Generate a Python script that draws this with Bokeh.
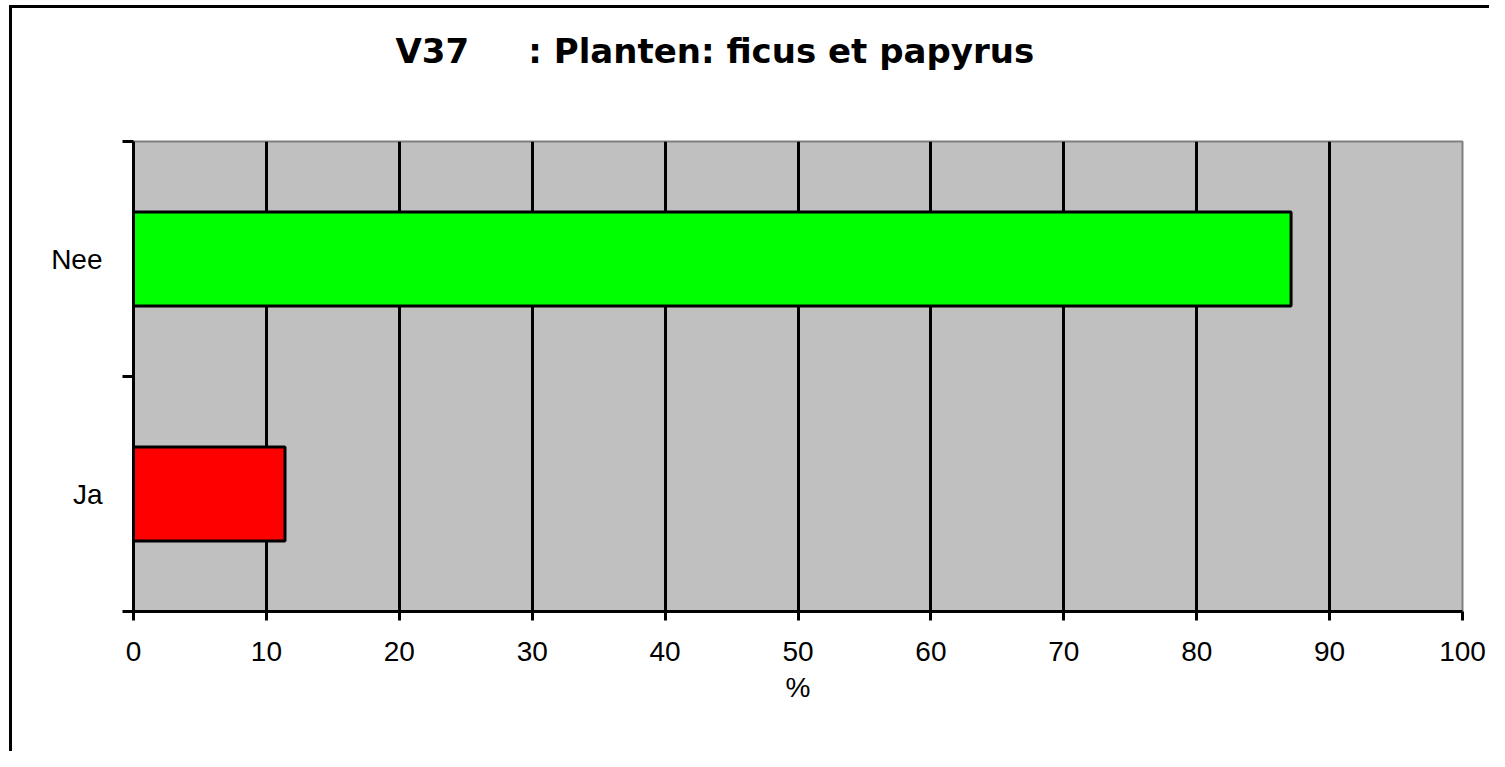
from bokeh.plotting import figure
from bokeh.models import Range1d, FixedTicker, Title
from bokeh.embed import file_html
from bokeh.resources import INLINE

# ---- data ----
categories = ["Ja", "Nee"]
values = [11.4, 87.1]
bar_colors = ["#FF0000", "#00FF00"]
x_ticks = [0, 10, 20, 30, 40, 50, 60, 70, 80, 90, 100]
title_code = "V37"
title_rest = ": Planten: ficus et papyrus"
x_label = "%"

ypos = [i + 0.5 for i in range(len(categories))]
boundaries = [float(i) for i in range(len(categories) + 1)]

p = figure(width=1489, height=751, output_backend="svg", toolbar_location=None,
           x_range=Range1d(x_ticks[0], x_ticks[-1]), y_range=Range1d(0, len(categories)),
           min_border_left=133, min_border_right=27, min_border_top=141, min_border_bottom=140,
           background_fill_color="#C0C0C0", border_fill_color=None,
           outline_line_color="#808080", outline_line_width=2)
p.styles = {"background": "linear-gradient(#000,#000) 9px 5px / 3px 100% no-repeat, "
                          "linear-gradient(#000,#000) 9px 5px / 100% 3px no-repeat, #ffffff"}

p.hbar(y=ypos, left=0, right=values, height=0.4, fill_color=bar_colors,
       line_color="black", line_width=3)

xa = p.xaxis[0]
xa.ticker = FixedTicker(ticks=x_ticks)
xa.major_tick_out = 9
xa.major_tick_in = 0
xa.minor_tick_out = 0
xa.minor_tick_in = 0
xa.axis_line_width = 3
xa.axis_line_color = "black"
xa.major_tick_line_width = 3
xa.major_tick_line_color = "black"
xa.major_label_text_font = "Liberation Sans"
xa.major_label_text_font_size = "28px"
xa.major_label_text_color = "black"
xa.major_label_standoff = 21
xa.axis_label = x_label
xa.axis_label_text_font = "Liberation Sans"
xa.axis_label_text_font_style = "normal"
xa.axis_label_text_font_size = "28px"
xa.axis_label_text_color = "black"
xa.axis_label_standoff = 8

ya = p.yaxis[0]
ya.ticker = FixedTicker(ticks=ypos, minor_ticks=boundaries)
ya.major_label_overrides = {ypos[i]: categories[i] for i in range(len(categories))}
ya.major_tick_out = 0
ya.major_tick_in = 0
ya.minor_tick_out = 11
ya.minor_tick_in = 0
ya.minor_tick_line_width = 3
ya.minor_tick_line_color = "black"
ya.axis_line_width = 3
ya.axis_line_color = "black"
ya.major_label_text_font = "Liberation Sans"
ya.major_label_text_font_size = "28px"
ya.major_label_text_color = "black"
ya.major_label_standoff = 20

p.xgrid.ticker = FixedTicker(ticks=x_ticks[1:-1])
p.xgrid.grid_line_color = "black"
p.xgrid.grid_line_width = 3
p.ygrid.visible = False

# second (blank) line only reserves vertical room so the title sits higher
title_text = title_code + "\u00a0" * 5 + title_rest + "\n\u00a0"
p.add_layout(Title(text=title_text, align="left", offset=262, standoff=58,
                   vertical_align="top",
                   text_font="DejaVu Sans", text_font_style="bold", text_font_size="34px",
                   text_color="black"), "above")

open("out.html", "w").write(file_html(p, INLINE))
